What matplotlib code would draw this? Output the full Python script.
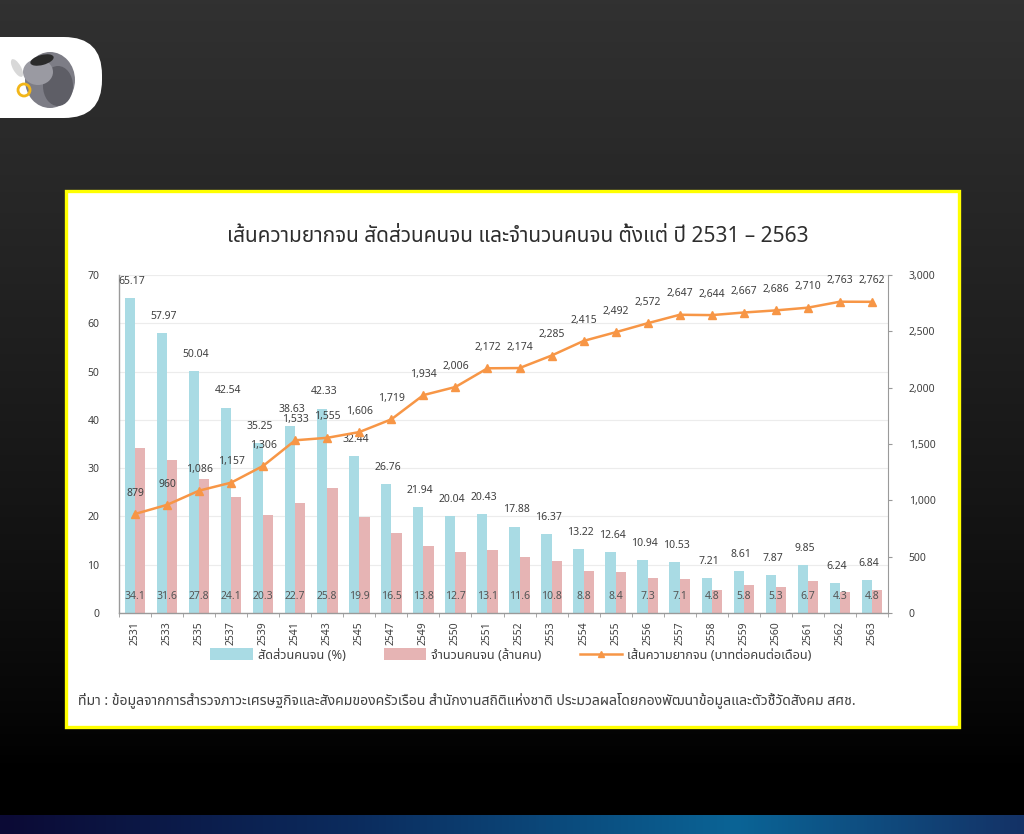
import numpy as np
import matplotlib
matplotlib.use("Agg")
import matplotlib.pyplot as plt
from matplotlib import font_manager
from matplotlib.ft2font import FT2Font
from matplotlib.patches import Rectangle, FancyBboxPatch, Ellipse, Circle
from matplotlib.lines import Line2D

# ==========================================================
# DATA
# ==========================================================

years = ["2531", "2533", "2535", "2537", "2539", "2541", "2543", "2545",
         "2547", "2549", "2550", "2551", "2552", "2553", "2554", "2555",
         "2556", "2557", "2558", "2559", "2560", "2561", "2562", "2563"]

poor_pct = [65.17, 57.97, 50.04, 42.54, 35.25, 38.63, 42.33, 32.44,
            26.76, 21.94, 20.04, 20.43, 17.88, 16.37, 13.22, 12.64,
            10.94, 10.53, 7.21, 8.61, 7.87, 9.85, 6.24, 6.84]

poor_count = [34.1, 31.6, 27.8, 24.1, 20.3, 22.7, 25.8, 19.9,
              16.5, 13.8, 12.7, 13.1, 11.6, 10.8, 8.8, 8.4,
              7.3, 7.1, 4.8, 5.8, 5.3, 6.7, 4.3, 4.8]

poverty_line = [879, 960, 1086, 1157, 1306, 1533, 1555, 1606,
                1719, 1934, 2006, 2172, 2174, 2285, 2415, 2492,
                2572, 2647, 2644, 2667, 2686, 2710, 2763, 2762]

TITLE = "เส้นความยากจน สัดส่วนคนจน และจำนวนคนจน ตั้งแต่ ปี 2531 – 2563"
LEG_PCT = "สัดส่วนคนจน (%)"
LEG_CNT = "จำนวนคนจน (ล้านคน)"
LEG_LINE = "เส้นความยากจน (บาทต่อคนต่อเดือน)"
SOURCE = ("ที่มา : ข้อมูลจากการสำรวจภาวะเศรษฐกิจและสังคมของครัวเรือน "
          "สำนักงานสถิติแห่งชาติ ประมวลผลโดยกองพัฒนาข้อมูลและตัวชี้วัดสังคม สศช.")

# ==========================================================
# FONT (need Thai glyphs)
# ==========================================================

def thai_families():
    found = []
    for f in font_manager.fontManager.ttflist:
        try:
            cmap = FT2Font(f.fname).get_charmap()
        except Exception:
            continue
        if 0x0E01 in cmap and 0x0E49 in cmap and f.name not in found:
            found.append(f.name)
    return found

thai = thai_families()
prefer = ["Noto Sans Thai", "Noto Sans Thai UI", "Loma", "Tahoma", "Garuda"]
thai.sort(key=lambda n: prefer.index(n) if n in prefer else len(prefer))
plt.rcParams["font.family"] = thai[:1] + ["DejaVu Sans"]

TXT = "#404040"
BLUE = "#a9dbe4"
PINK = "#e6b4b4"
ORANGE = "#f79646"

W, H = 1024, 834
fig = plt.figure(figsize=(W / 100, H / 100), dpi=100)

# ==========================================================
# BACKGROUND
# ==========================================================

bg = fig.add_axes([0, 0, 1, 1], zorder=0)
bg.set_xlim(0, W)
bg.set_ylim(H, 0)
bg.axis("off")

rows = np.linspace(0, 1, 200)
shade = np.clip(1 - rows * H / 770, 0, 1)
grad = np.zeros((200, 2, 3))
top = np.array([0x31, 0x31, 0x31]) / 255
for k in range(3):
    grad[:, :, k] = (top[k] * shade ** 0.8)[:, None]
bg.imshow(grad, extent=[0, W, H, 0], aspect="auto", zorder=0)

band_x = np.linspace(0, 1, 300)
stops = [(0.0, (0x0b, 0x0a, 0x35)), (0.35, (0x0c, 0x2c, 0x5e)),
         (0.72, (0x0a, 0x64, 0x96)), (1.0, (0x14, 0x32, 0x66))]
band = np.zeros((1, 300, 3))
for k in range(3):
    band[0, :, k] = np.interp(band_x, [s[0] for s in stops],
                              [s[1][k] / 255 for s in stops])
bg.imshow(band, extent=[0, W, H, 815], aspect="auto", zorder=1)

# logo tab
bg.add_patch(FancyBboxPatch((-60, 37), 162, 81,
                            boxstyle="round,pad=0,rounding_size=38",
                            fc="white", ec="none", zorder=2))
bg.add_patch(Ellipse((50, 80), 50, 56, fc="#7d7d86", ec="none", zorder=3))
bg.add_patch(Ellipse((58, 86), 30, 40, fc="#5e5e66", ec="none", zorder=3))
bg.add_patch(Ellipse((38, 72), 30, 26, fc="#9a9aa2", ec="none", zorder=4))
bg.add_patch(Ellipse((42, 60), 24, 10, angle=-15, fc="#2b2b2b", ec="none", zorder=4))
bg.add_patch(Ellipse((17, 68), 8, 20, angle=-30, fc="#d8d8d8", ec="none", zorder=4))
bg.add_patch(Circle((24, 90), 6, fc="none", ec="#f2b619", lw=2, zorder=5))

# yellow panel
bg.add_patch(Rectangle((66, 191), 893, 536, fc="white", ec="#ffff00",
                       lw=2.4, zorder=5))

# ==========================================================
# CHART
# ==========================================================

ax = fig.add_axes([119 / W, 1 - 613 / H, (888 - 119) / W, (613 - 275) / H],
                  zorder=2)
ax.set_facecolor("none")
x = np.arange(len(years))
bw = 0.32

ax.bar(x - 0.16, poor_pct, width=bw, color=BLUE, zorder=2)
ax.bar(x + 0.16, poor_count, width=bw, color=PINK, zorder=2)

ax.set_xlim(-0.5, len(years) - 0.5)
ax.set_ylim(0, 70)
ax.set_yticks(range(0, 71, 10))
ax.yaxis.grid(True, color="#ececec", lw=0.8, zorder=0)
ax.set_axisbelow(True)

ax.set_xticks(x)
ax.set_xticklabels(years, rotation=90, fontsize=7.5, color=TXT)
ax.set_xticks(np.arange(-0.5, len(years), 1), minor=True)
ax.tick_params(axis="x", which="major", length=0, pad=6)
ax.tick_params(axis="x", which="minor", length=3, color="#999999")
ax.tick_params(axis="y", length=0, labelsize=7.5, labelcolor=TXT, pad=14)

for s in ["top", "right"]:
    ax.spines[s].set_visible(False)
for s in ["left", "bottom"]:
    ax.spines[s].set_color("#9a9a9a")
    ax.spines[s].set_linewidth(1.0)

for i in range(len(years)):
    ax.annotate(f"{poor_pct[i]:.2f}", (x[i] - 0.1, poor_pct[i]),
                xytext=(0, 12), textcoords="offset points",
                ha="center", va="center", fontsize=7.5, color=TXT, zorder=5)
    ax.text(x[i], 3.5, f"{poor_count[i]:g}", ha="center", va="center",
            fontsize=7.5, color="#555555", zorder=5)

ax2 = ax.twinx()
ax2.plot(x, poverty_line, color=ORANGE, lw=1.8, marker="^", ms=6,
         zorder=4)
ax2.set_ylim(0, 3000)
ax2.set_yticks(range(0, 3001, 500))
ax2.set_yticklabels([f"{v:,}" for v in range(0, 3001, 500)])
ax2.tick_params(axis="y", length=3, color="#999999", labelsize=7.5,
                labelcolor=TXT, pad=12)
for s in ["top", "left", "bottom"]:
    ax2.spines[s].set_visible(False)
ax2.spines["right"].set_color("#9a9a9a")

for i in range(len(years)):
    ax2.annotate(f"{poverty_line[i]:,}", (x[i], poverty_line[i]),
                 xytext=(0, 15), textcoords="offset points",
                 ha="center", va="center", fontsize=7.5, color=TXT)

# ==========================================================
# TITLE / LEGEND / SOURCE
# ==========================================================

fig.text(0.506, 1 - 237 / H, TITLE, ha="center", va="center",
         fontsize=15, color="#2e2e2e", zorder=10)

handles = [Rectangle((0, 0), 1, 1, fc=BLUE, ec="none"),
           Rectangle((0, 0), 1, 1, fc=PINK, ec="none"),
           Line2D([], [], color=ORANGE, lw=1.8, marker="^", ms=5)]
leg = fig.legend(handles, [LEG_PCT, LEG_CNT, LEG_LINE], ncol=3,
                 loc="center", bbox_to_anchor=(0.499, 1 - 655 / H),
                 frameon=False, fontsize=9.2, handlelength=3.3,
                 handleheight=1.0, handletextpad=0.4, columnspacing=3.0)
for t in leg.get_texts():
    t.set_color(TXT)
leg.set_zorder(10)

fig.text(78 / W, 1 - 700 / H, SOURCE, ha="left", va="center",
         fontsize=10.1, color=TXT, zorder=10)

fig.savefig("out.png", dpi=100)
